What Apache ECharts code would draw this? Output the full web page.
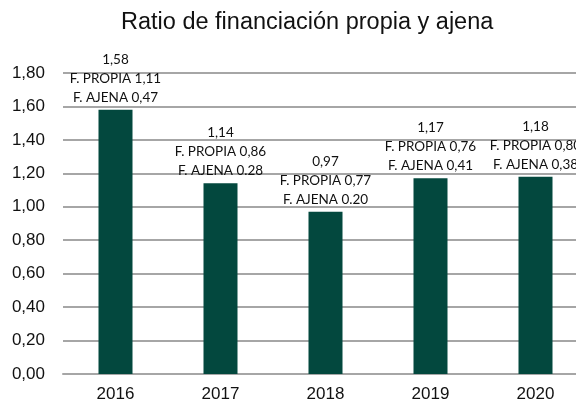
<!DOCTYPE html>
<html>
<head>
<meta charset="utf-8">
<script src="https://cdn.jsdelivr.net/npm/echarts@6/dist/echarts.min.js"></script>
<style>
  html, body { margin: 0; padding: 0; background: #fff; }
  #main { width: 576px; height: 405px; }
</style>
</head>
<body>
<div id="main"></div>
<script>
// datos del gráfico
var years = ['2016', '2017', '2018', '2019', '2020'];
var ratioTotal = [1.58, 1.14, 0.97, 1.17, 1.18];
var propiaText = ['1,11', '0,86', '0,77', '0,76', '0,80'];
var ajenaText = ['0,47', '0.28', '0.20', '0,41', '0,38'];
var yTicks = [0, 0.2, 0.4, 0.6, 0.8, 1.0, 1.2, 1.4, 1.6, 1.8];

var chart = echarts.init(document.getElementById('main'));

function comma(v, d) {
  return v.toFixed(d).replace('.', ',');
}

var option = {
  animation: false,
  title: {
    text: 'Ratio de financiación propia y ajena',
    left: 116,
    top: 6,
    textStyle: {
      fontFamily: 'Liberation Sans',
      fontWeight: 'normal',
      fontSize: 23.5,
      color: '#111'
    }
  },
  grid: {
    left: 63,
    width: 525,
    top: 73,
    bottom: 31,
    outerBoundsMode: 'none'
  },
  xAxis: {
    type: 'category',
    data: years,
    axisTick: { show: false },
    axisLine: { lineStyle: { color: '#a6a6a6', width: 2 } },
    axisLabel: {
      margin: 12,
      fontFamily: 'Liberation Sans',
      fontSize: 17,
      color: '#111'
    }
  },
  yAxis: {
    type: 'value',
    min: yTicks[0],
    max: yTicks[yTicks.length - 1],
    interval: 0.2,
    axisLabel: {
      margin: 18,
      fontFamily: 'Liberation Sans',
      fontSize: 17,
      color: '#111',
      formatter: function (v) { return comma(v, 2); }
    },
    splitLine: { lineStyle: { color: '#a6a6a6', width: 2 } }
  },
  series: [{
    type: 'bar',
    data: ratioTotal,
    barWidth: 34,
    itemStyle: { color: '#03483e' },
    label: {
      show: true,
      position: 'top',
      distance: 3,
      fontFamily: 'Lato',
      fontSize: 13.5,
      lineHeight: 19,
      color: '#111',
      formatter: function (p) {
        return comma(p.value, 2) + '\nF. PROPIA ' + propiaText[p.dataIndex] +
          '\nF. AJENA ' + ajenaText[p.dataIndex];
      }
    }
  }]
};

chart.setOption(option);
</script>
</body>
</html>
